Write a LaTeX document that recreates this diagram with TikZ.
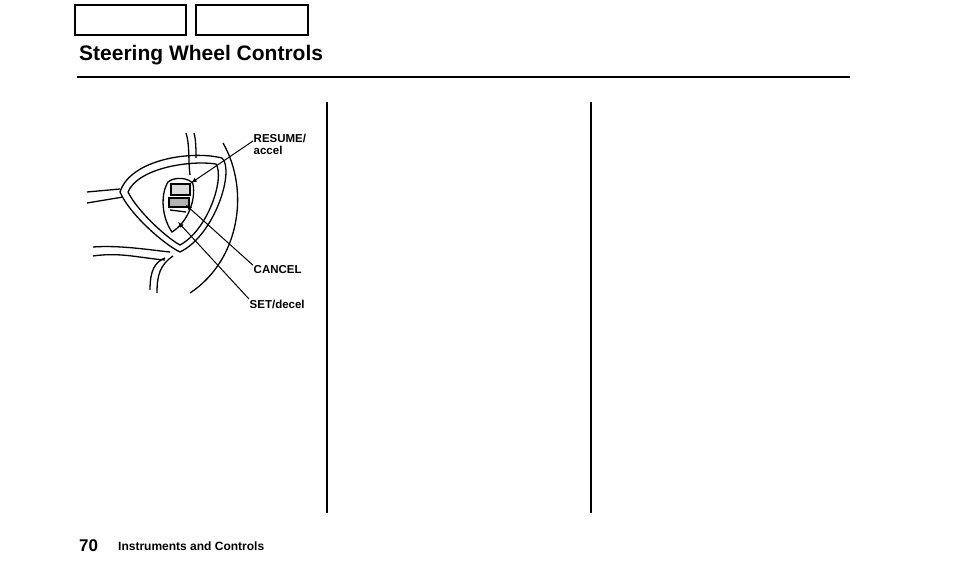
\documentclass[tikz,border=0pt]{standalone}
\usepackage{fontspec}
\setmainfont{Liberation Sans}
\usetikzlibrary{positioning}
\tikzset{
    tab/.style={draw, line width=1.6pt},
    rule/.style={draw, line width=1.2pt},
    outline/.style={draw, line width=1.3pt},
    callout/.style={font=\bfseries\fontsize{11.5}{12}\selectfont, inner sep=0.5pt, anchor=west, align=left},
    leader/.style={draw, line width=1pt, -latex},
}
\begin{document}
\begin{tikzpicture}[x=1pt, y=-1pt]
	\useasboundingbox (0,0) rectangle (954,572);
	% tabs and heading
	\draw[tab] (75,5) rectangle (186,35);
	\draw[tab] (196,5) rectangle (308,35);
	\node[anchor=base west, inner sep=0, font=\bfseries\fontsize{21}{24}\selectfont] (title) at (79,61) {Steering Wheel Controls};
	\draw[line width=2pt] (77,77) -- (850,77);
	% columns
	\draw[rule] (327,102) -- (327,513);
	\draw[rule] (591,102) -- (591,513);
	% wheel sketch
	\draw[outline] (87,192) -- (120,189);
	\draw[outline] (87,203) -- (123,197);
	\draw[outline] (120,192) .. controls (130,160) and (190,150) .. (222,158)
		.. controls (235,170) and (215,235) .. (180,252) .. controls (165,245) and (130,215) .. cycle;
	\draw[outline] (128,192) .. controls (138,168) and (190,160) .. (216,164)
		.. controls (225,178) and (208,230) .. (180,245) .. controls (167,238) and (138,212) .. cycle;
	\draw[outline] (186,133) .. controls (190,145) and (188,160) .. (190,175);
	\draw[outline] (194,133) .. controls (196,140) and (196,150) .. (196,158);
	\draw[outline] (223,143) .. controls (250,190) and (240,260) .. (190,293);
	\draw[outline] (93,247) .. controls (120,245) and (150,250) .. (170,252);
	\draw[outline] (93,256) .. controls (120,252) and (140,258) .. (165,260);
	\draw[outline] (165,258) .. controls (155,262) and (150,270) .. (150,290);
	\draw[outline] (173,256) .. controls (160,265) and (157,275) .. (157,293);
	% button cluster
	\draw[outline] (168,182) .. controls (175,176) and (190,178) .. (193,184)
		.. controls (196,200) and (188,222) .. (172,232) .. controls (162,218) and (160,195) .. cycle;
	\draw[outline, fill=black!15] (171,184) rectangle (190,195);
	\draw[outline, fill=black!30] (169,198) rectangle (189,207);
	\draw[outline] (170,210) -- (186,212);
	% labels and leaders
	\node[callout] (resume) at (253,144) {RESUME/\\accel};
	\node[callout] (cancel) at (253,270) {CANCEL};
	\node[callout] (setdecel) at (249,304) {SET/decel};
	\coordinate (resumebtn) at (191,183);
	\coordinate (cancelbtn) at (186,205);
	\coordinate (setbtn) at (178,222);
	\draw[leader] (resume.west) ++(0,-3) -- (resumebtn);
	\draw[leader] (cancel.north west) -- (cancelbtn);
	\draw[leader] (setdecel.north west) -- (setbtn);
	% footer
	\node[anchor=base west, inner sep=0, font=\bfseries\fontsize{17}{19}\selectfont] (pagenum) at (79,551) {70};
	\node[anchor=base west, inner sep=0, font=\bfseries\fontsize{12}{14}\selectfont] (section) at (118,550) {Instruments and Controls};
\end{tikzpicture}
\end{document}
